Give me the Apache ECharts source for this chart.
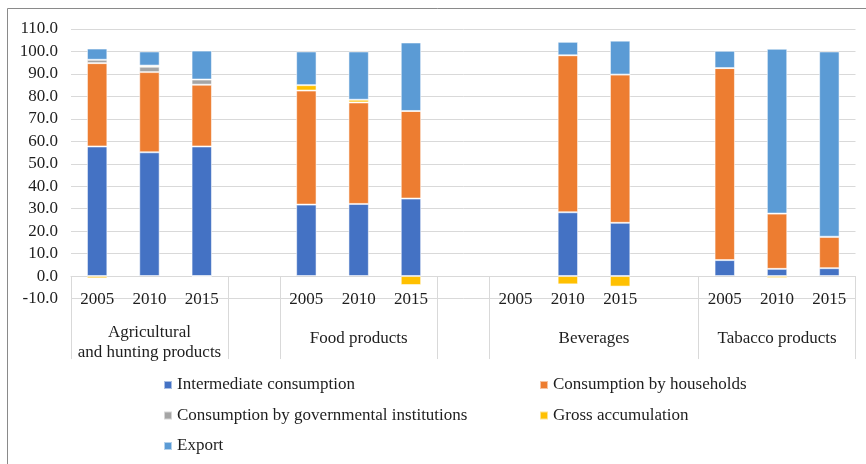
<!DOCTYPE html>
<html>
<head>
<meta charset="utf-8">
<script src="https://cdn.jsdelivr.net/npm/echarts@6/dist/echarts.min.js"></script>
<style>
  html, body { margin: 0; padding: 0; background: #fff; }
  #chart { width: 866px; height: 464px; }
</style>
</head>
<body>
<div id="chart"></div>
<script>
// Year slots along the category axis; empty strings are spacer slots between product groups.
const yearLabels = ['2005', '2010', '2015', '', '2005', '2010', '2015', '', '2005', '2010', '2015', '', '2005', '2010', '2015'];

// Product groups along the axis and how many slots each one covers (spacers have no name).
const groupNames = ['Agricultural\nand hunting products', '', 'Food products', '', 'Beverages', 'Tabacco products'];
const groupSizes = [3, 1, 3, 1, 4, 3];

// Structure of use, % of resources
const intermediate = [57.7, 55.1, 57.7, null, 31.8, 32.1, 34.5, null, null, 28.4, 23.7, null, 7.1, 3.2, 3.5];
const households   = [37.1, 35.7, 27.5, null, 50.8, 45.2, 39.0, null, null, 69.9, 66.0, null, 85.5, 24.6, 14.0];
const government   = [1.5, 2.4, 2.3, null, 0, 0, 0, null, null, 0, 0, null, 0, 0, 0];
const accumulation = [-1.0, 0.5, -0.3, null, 2.4, 1.2, -4.0, null, null, -3.7, -4.7, null, 0, -0.9, 0];
const exportShare  = [5.0, 6.3, 12.9, null, 15.0, 21.5, 30.5, null, null, 6.0, 15.1, null, 7.7, 73.4, 82.5];

const seriesNames = [
  'Intermediate consumption',
  'Consumption by households',
  'Consumption by governmental institutions',
  'Gross accumulation',
  'Export'
];
const seriesColors = ['#4472C4', '#ED7D31', '#A5A5A5', '#FFC000', '#5B9BD5'];
const seriesData = [intermediate, households, government, accumulation, exportShare];

// Group boundaries (in slot units) and group centres derived from the group sizes.
const boundaries = [0];
groupSizes.forEach(s => boundaries.push(boundaries[boundaries.length - 1] + s));
const centres = groupSizes.map((s, i) => boundaries[i] + s / 2);

const FONT = '"Liberation Serif", "Times New Roman", serif';
const TEXT = '#1e1e1e';
const GRID = '#d9d9d9';

const chart = echarts.init(document.getElementById('chart'), null, { renderer: 'canvas' });

chart.setOption({
  backgroundColor: '#ffffff',
  animation: false,
  textStyle: { fontFamily: FONT },
  grid: { left: 71, right: 10.5, top: 29, bottom: 165.5, containLabel: false },
  legend: [
    {
      data: [seriesNames[0], seriesNames[2], seriesNames[4]],
      orient: 'vertical', left: 158, top: 370,
      icon: 'rect', itemWidth: 8, itemHeight: 8, itemGap: 10.5,
      textStyle: { fontFamily: FONT, fontSize: 17, color: TEXT, lineHeight: 20 }
    },
    {
      data: [seriesNames[1], seriesNames[3]],
      orient: 'vertical', left: 534, top: 370,
      icon: 'rect', itemWidth: 8, itemHeight: 8, itemGap: 10.5,
      textStyle: { fontFamily: FONT, fontSize: 17, color: TEXT, lineHeight: 20 }
    }
  ],
  xAxis: [
    {
      type: 'category',
      data: yearLabels,
      axisLine: { onZero: true, lineStyle: { color: GRID, width: 1 } },
      axisTick: {
        show: true,
        length: 83,
        interval: (idx) => boundaries.indexOf(idx) !== -1,
        lineStyle: { color: GRID, width: 1 }
      },
      axisLabel: { interval: 0, margin: -7.5, fontFamily: FONT, fontSize: 17, color: TEXT },
      splitLine: { show: false }
    },
    {
      type: 'value',
      min: 0, max: yearLabels.length, interval: 0.5,
      position: 'bottom',
      axisLine: { show: false, onZero: false },
      axisTick: { show: false },
      splitLine: { show: false },
      axisLabel: {
        margin: 24.5,
        verticalAlign: 'top',
        fontFamily: FONT, fontSize: 17, color: TEXT,
        showMinLabel: true, showMaxLabel: true,
        formatter: (v) => {
          const i = centres.findIndex(c => Math.abs(c - v) < 1e-6);
          if (i < 0 || !groupNames[i]) return '';
          const lines = groupNames[i].split('\n');
          if (lines.length === 1) return '{one|' + lines[0] + '}';
          return lines.map(l => '{two|' + l + '}').join('\n');
        },
        rich: {
          one: { fontFamily: FONT, fontSize: 17, color: TEXT, lineHeight: 32 },
          two: { fontFamily: FONT, fontSize: 17, color: TEXT, lineHeight: 20 }
        }
      }
    }
  ],
  yAxis: {
    type: 'value',
    min: -10, max: 110, interval: 10,
    axisLine: { show: false },
    axisTick: { show: false },
    axisLabel: {
      margin: 13,
      fontFamily: FONT, fontSize: 17, color: TEXT,
      formatter: (v) => v.toFixed(1)
    },
    splitLine: { lineStyle: { color: GRID, width: 1 } }
  },
  series: seriesNames.map((name, i) => ({
    name,
    type: 'bar',
    stack: 'use',
    xAxisIndex: 0,
    barWidth: '39%',
    data: seriesData[i],
    itemStyle: {
      color: seriesColors[i],
      borderColor: 'rgba(255,255,255,0.55)',
      borderWidth: 1
    },
    emphasis: { disabled: true }
  })),
  graphic: [
    {
      type: 'rect',
      silent: true,
      z: 100,
      shape: { x: 7.5, y: 8.5, width: 880, height: 480 },
      style: { fill: 'none', stroke: '#8a8a8a', lineWidth: 1 }
    }
  ]
});
</script>
</body>
</html>
